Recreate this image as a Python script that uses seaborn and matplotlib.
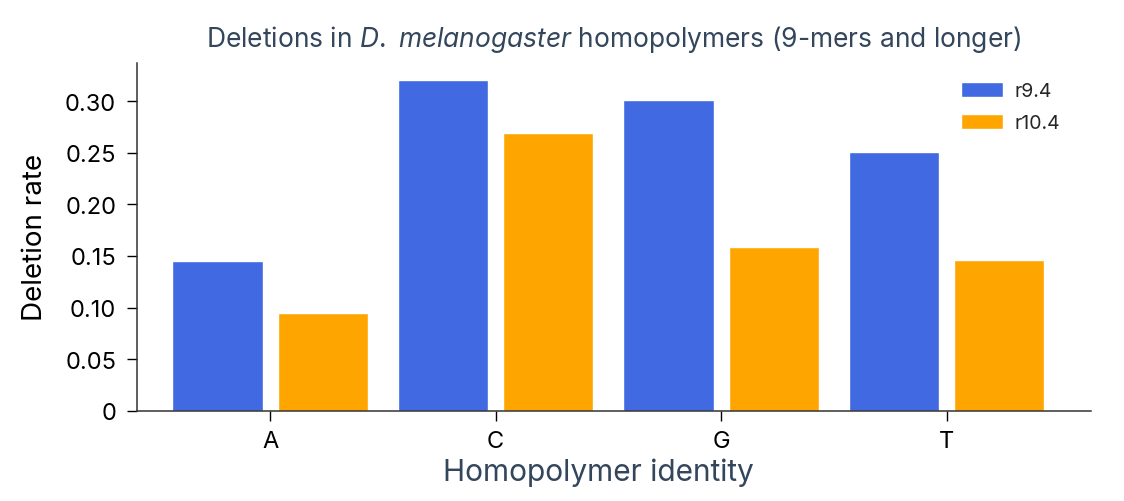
import pandas as pd
import matplotlib
matplotlib.use("Agg")
import matplotlib.pyplot as plt
import seaborn as sns

# values
homopolymers = ["A", "C", "G", "T"]
r94 = [0.145, 0.321, 0.301, 0.251]
r104 = [0.095, 0.269, 0.159, 0.146]
chemistries = ["r9.4", "r10.4"]
y_ticks = [0, 0.05, 0.10, 0.15, 0.20, 0.25, 0.30]
y_tick_labels = ["0", "0.05", "0.10", "0.15", "0.20", "0.25", "0.30"]

df = pd.DataFrame({
    "Homopolymer": homopolymers * 2,
    "rate": r94 + r104,
    "chem": [chemistries[0]] * 4 + [chemistries[1]] * 4,
})

sns.set_style("white")
plt.rcParams["font.family"] = ["Inter", "DejaVu Sans"]
plt.rcParams["mathtext.fontset"] = "custom"
plt.rcParams["mathtext.it"] = "Inter:italic"
plt.rcParams["mathtext.rm"] = "Inter"

slate = "#33465c"

fig = plt.figure(figsize=(11.24, 5.02), dpi=100)
ax = fig.add_axes([0.1219, 0.1799, 0.8487, 0.6926])

sns.barplot(data=df, x="Homopolymer", y="rate", hue="chem", hue_order=chemistries,
            order=homopolymers, palette=["#4169E1", "#FFA500"],
            width=0.933, gap=0.143, saturation=1, ax=ax)

ax.set_xlim(-0.59, 3.64)
ax.set_ylim(0, 0.337)
ax.set_yticks(y_ticks)
ax.set_yticklabels(y_tick_labels)

ax.set_title(r"Deletions in $\it{D.}$ $\it{melanogaster}$ homopolymers (9-mers and longer)",
             fontsize=19, color=slate, pad=12)
ax.set_xlabel("Homopolymer identity", fontsize=21.5, color=slate, labelpad=4, x=0.484)
ax.set_ylabel("Deletion rate", fontsize=20, color="black", labelpad=12)

ax.tick_params(axis="both", labelsize=17, colors="black", length=7, width=1,
               direction="out", bottom=True, left=True)
ax.tick_params(axis="x", pad=7)
ax.tick_params(axis="y", pad=8)

for side in ["top", "right"]:
    ax.spines[side].set_visible(False)
for side in ["left", "bottom"]:
    ax.spines[side].set_color("#333333")
    ax.spines[side].set_linewidth(1.1)

leg = ax.legend(frameon=False, fontsize=14, loc="upper left",
                bbox_to_anchor=(0.845, 0.995), handlelength=2.2, handleheight=0.75,
                handletextpad=0.55, labelspacing=0.72, title=None)

fig.savefig("out.png", dpi=100)
